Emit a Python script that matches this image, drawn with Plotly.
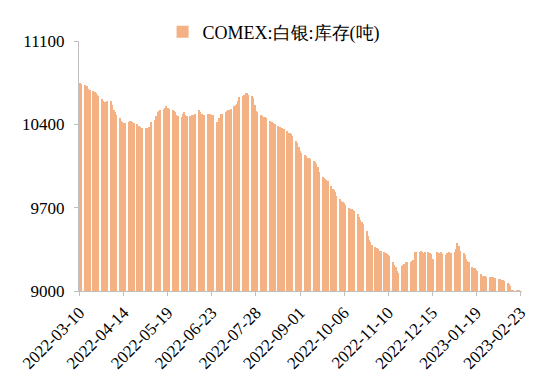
import pandas as pd
import plotly.graph_objects as go

# ---- data ----
start_date = "2022-03-10"
end_date = "2023-02-23"

first_days = [10750, 10740]  # Thu 3/10, Fri 3/11
weekly_values = [
    [10730, 10720, 10720, 10700, 10690],
    [10680, 10670, 10660, 10650, 10640],
    [10610, 10600, 10590, 10590, 10600],
    [10600, 10560, 10520, 10500, 10480],
    [10450, 10430, 10420, 10410, 10410],
    [10420, 10430, 10430, 10420, 10410],
    [10400, 10390, 10380, 10370, 10370],
    [10370, 10370, 10380, 10380, 10420],
    [10440, 10470, 10500, 10510, 10520],
    [10530, 10540, 10550, 10540, 10530],
    [10520, 10510, 10500, 10480, 10470],
    [10460, 10490, 10500, 10480, 10470],
    [10470, 10480, 10480, 10470, 10490],
    [10520, 10500, 10490, 10480, 10480],
    [10490, 10490, 10490, 10480, 10480],
    [10420, 10410, 10450, 10490, 10490],
    [10500, 10510, 10520, 10520, 10530],
    [10550, 10560, 10570, 10600, 10630],
    [10640, 10650, 10660, 10660, 10650],
    [10640, 10620, 10560, 10510, 10500],
    [10480, 10470, 10460, 10460, 10450],
    [10430, 10420, 10420, 10410, 10400],
    [10390, 10380, 10370, 10370, 10360],
    [10340, 10330, 10330, 10320, 10300],
    [10260, 10240, 10210, 10180, 10160],
    [10140, 10130, 10120, 10120, 10110],
    [10090, 10080, 10070, 10040, 10000],
    [9960, 9950, 9940, 9930, 9920],
    [9880, 9860, 9850, 9830, 9800],
    [9770, 9760, 9750, 9740, 9720],
    [9700, 9690, 9690, 9680, 9670],
    [9650, 9620, 9600, 9580, 9560],
    [9500, 9460, 9430, 9410, 9390],
    [9370, 9360, 9350, 9340, 9340],
    [9330, 9320, 9310, 9300, 9290],
    [9240, 9220, 9200, 9170, 9150],
    [9210, 9220, 9230, 9240, 9240],
    [9240, 9250, 9260, 9330, 9330],
    [9330, 9340, 9330, 9320, 9330],
    [9330, 9320, 9310, 9270, 9270],
    [9330, 9320, 9320, 9330, 9310],
    [9300, 9320, 9330, 9320, 9320],
    [9330, 9350, 9400, 9380, 9340],
    [9320, 9300, 9270, 9250, 9240],
    [9200, 9190, 9190, 9180, 9170],
    [9140, 9130, 9130, 9130, 9120],
    [9120, 9120, 9120, 9110, 9110],
    [9100, 9100, 9090, 9090, 9080],
    [9070, 9060, 9040, 9010, 9010],
]
last_days = [9008, 9005, 9005, 9003]  # Mon 2/20 .. Thu 2/23

tick_labels = ["2022-03-10", "2022-04-14", "2022-05-19", "2022-06-23", "2022-07-28",
               "2022-09-01", "2022-10-06", "2022-11-10", "2022-12-15", "2023-01-19",
               "2023-02-23"]
y_ticks = [9000, 9700, 10400, 11100]
y_tick_text = ["9000", "9700", "10400", "11100"]
series_name = "COMEX:白银:库存(吨)"

values = first_days + [v for wk in weekly_values for v in wk] + last_days
dates = pd.bdate_range(start_date, end_date)[:len(values)]

FONT = "Liberation Serif"
AXIS = "#BFBFBF"

fig = go.Figure(go.Bar(
    x=dates, y=values, name=series_name,
    marker=dict(color="#F4B183", line=dict(width=0)),
    showlegend=True,
))

# page body has an 8px default margin, so the figure is 8px smaller each way
fig.update_layout(
    width=542, height=376,
    margin=dict(l=71, r=28, t=33, b=93, autoexpand=False),
    paper_bgcolor="white", plot_bgcolor="white",
    bargap=0,
    font=dict(family=FONT, size=17, color="black"),
    showlegend=True,
    legend=dict(orientation="h", x=0.49, xref="container", xanchor="center",
                y=0.985, yref="container", yanchor="top",
                font=dict(family=FONT, size=18),
                itemwidth=30, bgcolor="rgba(0,0,0,0)"),
    xaxis=dict(
        type="date", automargin=False,
        range=["2022-03-09 12:00", "2023-02-24 06:00"],
        tickmode="array", tickvals=tick_labels, ticktext=tick_labels,
        tickangle=-45, ticks="outside", ticklen=4, tickcolor=AXIS,
        showline=True, linecolor=AXIS, linewidth=1, showgrid=False,
        tickfont=dict(family=FONT, size=17, color="black"),
    ),
    yaxis=dict(
        automargin=False,
        range=[9000, 11100], tickmode="array", tickvals=y_ticks, ticktext=y_tick_text,
        ticks="outside", ticklen=4, tickcolor=AXIS, ticklabelstandoff=6,
        showline=True, linecolor=AXIS, linewidth=1, showgrid=False,
        zeroline=False,
        tickfont=dict(family=FONT, size=17, color="black"),
    ),
)

fig.write_html("out.html")
